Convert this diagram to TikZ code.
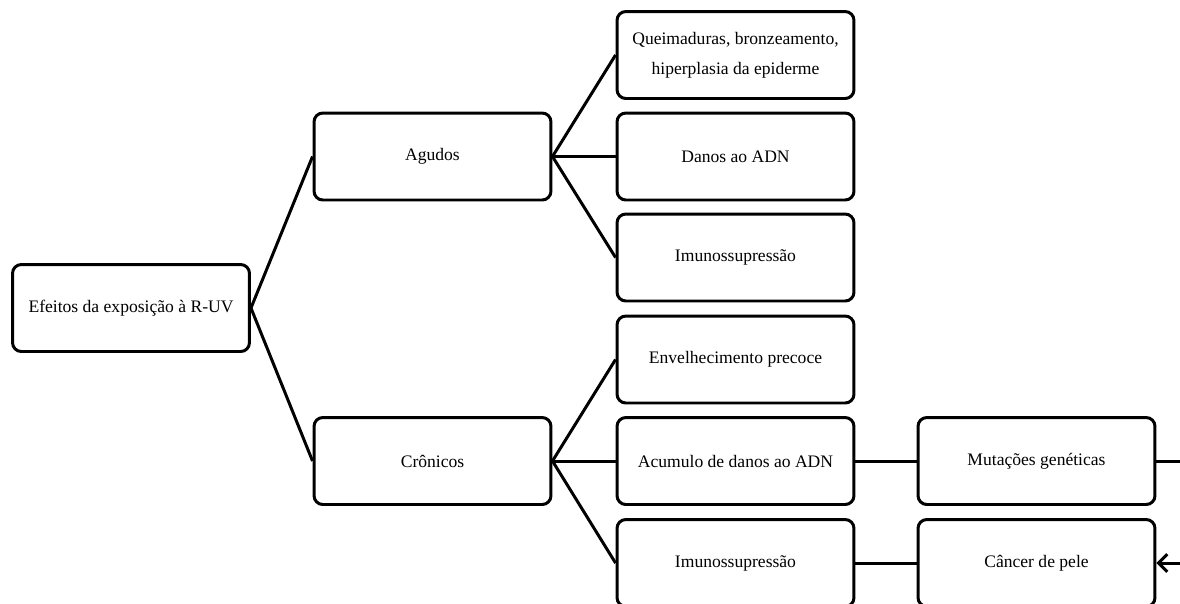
\documentclass[tikz,border=0pt]{standalone}
\usepackage{fontspec}
\setmainfont{Liberation Serif}
\usetikzlibrary{arrows.meta}

\tikzset{
	box/.style={draw=black, line width=1.7pt, rounded corners=5pt, fill=white,
		minimum width=4.74cm, minimum height=1.74cm, align=center,
		font=\fontsize{10}{17}\selectfont},
	link/.style={draw=black, line width=1.7pt}
}

\begin{document}
\begin{tikzpicture}[x=0.02cm, y=-0.02cm]
			\useasboundingbox (0,0) rectangle (1180,603);
			\clip (0,0) rectangle (1180,603);
			\coordinate (edgeA) at (1185,461);
			\coordinate (edgeB) at (1190,563);
			% first level
			\node[box] (efeitos) at (131,308) {Efeitos da exposição à R-UV};
			\node[box] (agudos) at (432.5,156.5) {Agudos};
			\node[box] (cronicos) at (432.5,461) {Crônicos};
			% acute effects
			\node[box] (queimaduras) at (735.5,55) {Queimaduras, bronzeamento,\\hiperplasia da epiderme};
			\node[box] (danos) at (735.5,156.5) {Danos ao ADN};
			\node[box] (imunoA) at (735.5,257.5) {Imunossupressão};
			% chronic effects
			\node[box] (envelhecimento) at (735.5,359.5) {Envelhecimento precoce};
			\node[box] (acumulo) at (735.5,461) {Acumulo de danos ao ADN};
			\node[box] (imunoC) at (735.5,563) {Imunossupressão};
			\node[box] (mutacoes) at (1036.5,461) {Mutações genéticas};
			\node[box] (cancer) at (1036.5,563) {Câncer de pele};
			% links
			\draw[link] (efeitos.east) -- (agudos.west);
			\draw[link] (efeitos.east) -- (cronicos.west);
			\draw[link] (agudos.east) -- (queimaduras.west);
			\draw[link] (agudos.east) -- (danos.west);
			\draw[link] (agudos.east) -- (imunoA.west);
			\draw[link] (cronicos.east) -- (envelhecimento.west);
			\draw[link] (cronicos.east) -- (acumulo.west);
			\draw[link] (cronicos.east) -- (imunoC.west);
			\draw[link] (acumulo.east) -- (mutacoes.west);
			\draw[link] (imunoC.east) -- (cancer.west);
			\draw[link] (mutacoes.east) -- (edgeA);
			\draw[link, -{Straight Barb[length=5pt, width=10pt]}] (edgeB) -- (cancer.east);
\end{tikzpicture}
\end{document}
